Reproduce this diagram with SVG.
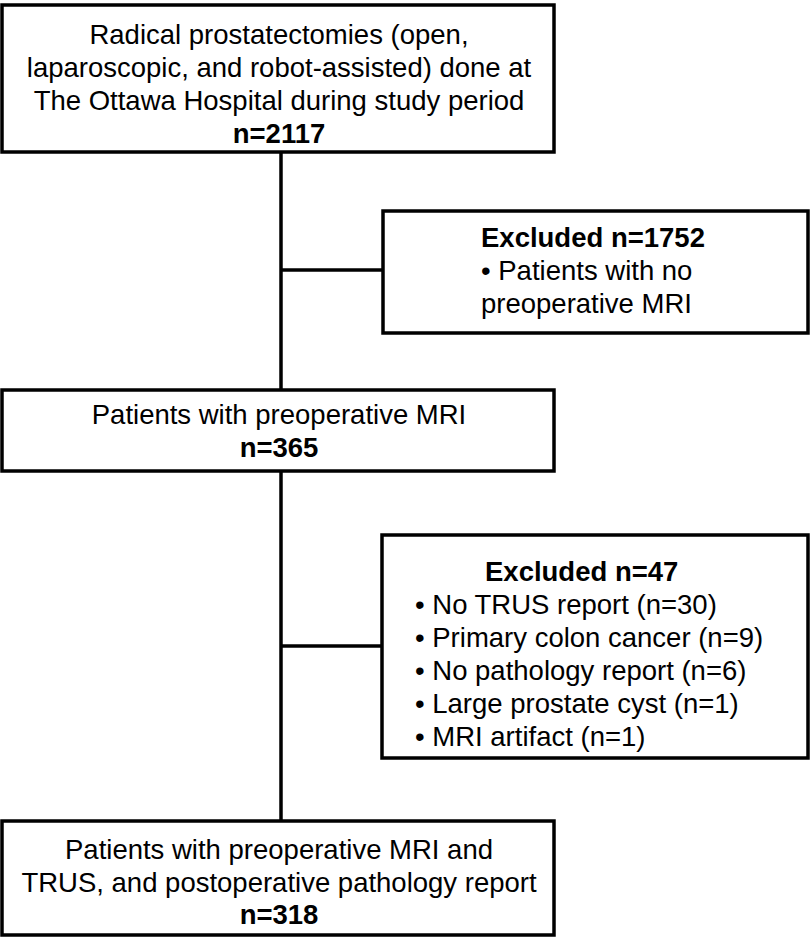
<svg xmlns="http://www.w3.org/2000/svg" width="812" height="938" viewBox="0 0 812 938">
<style>
.box{fill:#fff;stroke:#000;stroke-width:3.5}
.ln{stroke:#000;stroke-width:3.5;fill:none}
text{font-family:"Liberation Sans",Arial,Helvetica,sans-serif;font-size:27.5px;fill:#000}
.c{text-anchor:middle}
.b{font-weight:bold}
</style>
<rect width="812" height="938" fill="#fff"/>
<g id="connectors">
<line class="ln" x1="281" y1="152" x2="281" y2="390"/>
<line class="ln" x1="281" y1="471" x2="281" y2="821"/>
<line class="ln" x1="281" y1="270" x2="383" y2="270"/>
<line class="ln" x1="281" y1="646" x2="382" y2="646"/>
</g>
<g id="n1">
<rect class="box" x="2" y="5" width="552" height="147"/>
<text class="c" x="279" y="44">Radical prostatectomies (open,</text>
<text class="c" x="279" y="77">laparoscopic, and robot-assisted) done at</text>
<text class="c" x="279" y="110">The Ottawa Hospital during study period</text>
<text class="c b" x="279" y="143">n=2117</text>
</g>
<g id="n2">
<rect class="box" x="383" y="211" width="425" height="122"/>
<text class="b" x="481" y="247">Excluded n=1752</text>
<text x="481" y="280">• Patients with no</text>
<text x="481" y="313">preoperative MRI</text>
</g>
<g id="n3">
<rect class="box" x="2" y="390" width="552" height="81"/>
<text class="c" x="279" y="424">Patients with preoperative MRI</text>
<text class="c b" x="279" y="457">n=365</text>
</g>
<g id="n4">
<rect class="box" x="382" y="535" width="426" height="223"/>
<text class="b" x="485" y="581">Excluded n=47</text>
<text x="415" y="614">• No TRUS report (n=30)</text>
<text x="415" y="647">• Primary colon cancer (n=9)</text>
<text x="415" y="680">• No pathology report (n=6)</text>
<text x="415" y="713">• Large prostate cyst (n=1)</text>
<text x="415" y="746">• MRI artifact (n=1)</text>
</g>
<g id="n5">
<rect class="box" x="2" y="821" width="552" height="114"/>
<text class="c" x="279" y="859">Patients with preoperative MRI and</text>
<text class="c" x="279" y="892">TRUS, and postoperative pathology report</text>
<text class="c b" x="279" y="924">n=318</text>
</g>
</svg>
